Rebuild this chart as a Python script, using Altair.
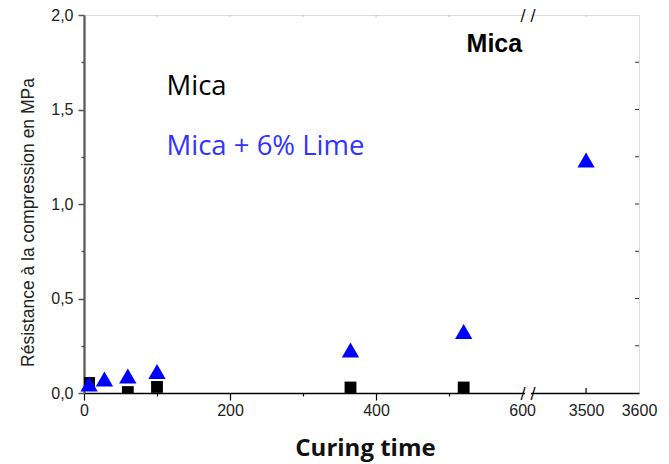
import altair as alt
import pandas as pd

# ---- data ----
mica_days = [7, 60, 100, 365, 520]
mica_values = [0.053, 0.005, 0.032, 0.029, 0.029]
lime_days = [7, 28, 60, 100, 365, 520, 3500]
lime_values = [0.048, 0.074, 0.09, 0.114, 0.228, 0.325, 1.233]

x_ticks = [0, 100, 200, 300, 400, 500, 600, 3500, 3600]
y_ticks = [0, 0.25, 0.5, 0.75, 1.0, 1.25, 1.5, 1.75, 2.0]
right_ticks = [0.25, 0.5, 0.75, 1.0, 1.25, 1.5, 1.75]
top_ticks = [100, 200, 300, 400, 500, 3500]
inner_bottom_ticks = [3500]

W, H = 555, 378

mica_df = pd.DataFrame({"day": mica_days, "v": mica_values})
lime_df = pd.DataFrame({"day": lime_days, "v": lime_values})

xscale = alt.Scale(domain=[0, 604, 3396, 3600], range=[0, 441, 447, 555], nice=False, zero=False)
yscale = alt.Scale(domain=[0, 2], nice=False, zero=False)

x_axis = alt.Axis(
    values=x_ticks,
    labelExpr="(datum.value % 200 == 0 || datum.value >= 3500) ? '' + datum.value : ''",
    tickSize={"condition": {"test": "datum.value % 200 != 0 && datum.value < 3500", "value": 3}, "value": 7},
    tickOpacity={"condition": {"test": "datum.value >= 600", "value": 0}, "value": 1},
    tickColor="#000", tickWidth=1.2,
    domainColor="#000", domainWidth=1.5,
    labelFont="Liberation Sans", labelFontSize=16, labelColor="#222", labelPadding=2,
    labelFlush=False, labelOverlap=False,
    title="Curing time", titleFont="Open Sans", titleFontWeight="bold", titleFontSize=24,
    titleColor="#111", titleX=281, titleY=62, titleBaseline="alphabetic", titleAnchor="start",
    titleAlign="center",
    grid=False,
)

y_axis = alt.Axis(
    values=y_ticks,
    labelExpr="datum.value % 0.5 == 0 ? replace(format(datum.value, '.1f'), '.', ',') : ''",
    tickSize={"condition": {"test": "datum.value % 0.5 != 0", "value": 3}, "value": 6},
    tickColor="#555", tickWidth=1.5,
    domainColor="#555", domainWidth=2.2,
    labelFont="Liberation Sans", labelFontSize=16, labelColor="#222", labelPadding=5,
    labelFlush=False, labelOverlap=False,
    title="Résistance à la compression en MPa", titleFont="Liberation Sans",
    titleFontWeight="normal", titleFontSize=17.5, titleColor="#222",
    titleX=-51, titleY=207, titleBaseline="alphabetic", titleAlign="center", titleAngle=270,
    grid=False,
)

squares = alt.Chart(mica_df).mark_point(
    shape="square", filled=True, color="black", size=140, opacity=1, clip=True
).encode(
    x=alt.X("day:Q", scale=xscale, axis=x_axis),
    y=alt.Y("v:Q", scale=yscale, axis=y_axis),
)

triangles = alt.Chart(lime_df).mark_point(
    shape="triangle-up", filled=True, color="#0000ff", size=300, opacity=1
).encode(x="day:Q", y="v:Q")

right_df = pd.DataFrame({"v": right_ticks})
right_rules = alt.Chart(right_df).mark_rule(color="#333", strokeWidth=1).encode(
    y="v:Q", x=alt.value(W), x2=alt.value(W - 4)
)

top_df = pd.DataFrame({"day": top_ticks})
top_rules = alt.Chart(top_df).mark_rule(color="#bbb", strokeWidth=1).encode(
    x="day:Q", y=alt.value(0), y2=alt.value(2)
)

inner_df = pd.DataFrame({"day": inner_bottom_ticks})
inner_rules = alt.Chart(inner_df).mark_rule(color="#000", strokeWidth=1.2).encode(
    x="day:Q", y=alt.value(H), y2=alt.value(H - 5)
)

gap_df = pd.DataFrame({"a": [604], "b": [3396]})
gap_top = alt.Chart(gap_df).mark_rect(color="white").encode(
    x="a:Q", x2="b:Q", y=alt.value(-3), y2=alt.value(3)
)
gap_bottom = alt.Chart(gap_df).mark_rect(color="white").encode(
    x="a:Q", x2="b:Q", y=alt.value(H - 3), y2=alt.value(H + 3)
)

brk_df = pd.DataFrame({"day": [2000]})
brk_top = alt.Chart(brk_df).mark_text(
    text="/ /", font="DejaVu Sans", fontSize=15, baseline="middle", align="center", color="#000", dy=1
).encode(x="day:Q", y=alt.value(0))
brk_bottom = alt.Chart(brk_df).mark_text(
    text="/ /", font="DejaVu Sans", fontSize=15, baseline="middle", align="center", color="#000", dy=1
).encode(x="day:Q", y=alt.value(H))

labels_df = pd.DataFrame({
    "day": [113, 113],
    "v": [1.577, 1.259],
    "t": ["Mica", "Mica + 6% Lime"],
    "c": ["#000000", "#3333ff"],
})
legend_text = alt.Chart(labels_df).mark_text(
    font="Open Sans", fontSize=27.5, align="left", baseline="alphabetic"
).encode(x="day:Q", y="v:Q", text="t:N", color=alt.Color("c:N", scale=None))

title_df = pd.DataFrame({"day": [524], "v": [1.804], "t": ["Mica"]})
title_text = alt.Chart(title_df).mark_text(
    font="Liberation Sans", fontSize=25, fontWeight="bold", align="left", baseline="alphabetic", color="#000"
).encode(x="day:Q", y="v:Q", text="t:N")

chart = alt.layer(
    top_rules, right_rules, gap_top, gap_bottom, brk_top, brk_bottom, inner_rules,
    squares, triangles, legend_text, title_text,
).properties(
    width=W, height=H,
    autosize=alt.AutoSizeParams(type="none"),
    padding={"left": 84, "top": 15, "right": 30, "bottom": 71},
).configure_view(
    stroke="#000", strokeWidth=1
).configure(background="white")

chart.save("out.html", embed_options={"renderer": "svg", "actions": False})
